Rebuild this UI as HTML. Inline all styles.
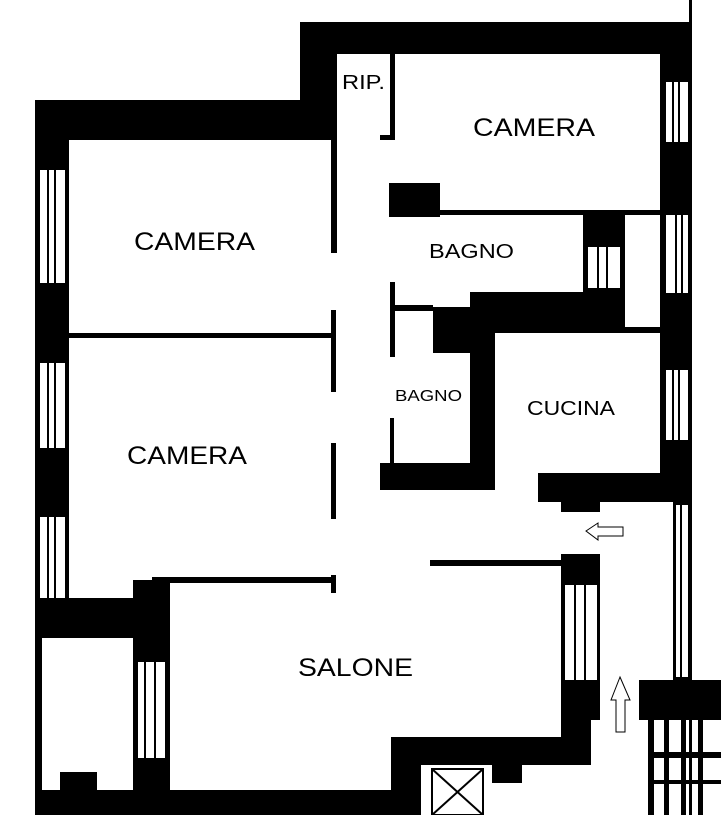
<!DOCTYPE html>
<html><head><meta charset="utf-8"><style>
html,body{margin:0;padding:0;background:#fff;}
svg{display:block;}
text{font-family:"Liberation Sans",sans-serif;fill:#000;}
</style></head><body>
<svg width="721" height="815" viewBox="0 0 721 815" xmlns="http://www.w3.org/2000/svg">
<g fill="#000">
<rect x="35" y="100" width="302" height="40"/>
<rect x="300" y="22" width="37" height="118"/>
<rect x="300" y="22" width="392" height="32"/>
<rect x="35" y="100" width="34" height="715"/>
<rect x="660" y="22" width="32" height="308"/>
<rect x="660" y="330" width="32" height="172"/>
<rect x="689" y="0" width="3" height="815"/>
<rect x="390" y="53" width="5" height="87"/>
<rect x="380" y="135" width="15" height="5"/>
<rect x="331" y="133" width="6" height="120"/>
<rect x="331" y="310" width="5" height="82"/>
<rect x="68" y="333" width="266" height="5"/>
<rect x="331" y="443" width="5" height="76"/>
<rect x="389" y="183" width="51" height="34"/>
<rect x="440" y="210" width="220" height="5"/>
<rect x="583" y="215" width="42" height="77"/>
<rect x="470" y="292" width="190" height="41"/>
<rect x="625" y="327" width="35" height="6"/>
<rect x="433" y="307" width="40" height="46"/>
<rect x="470" y="292" width="25" height="198"/>
<rect x="390" y="282" width="5" height="75"/>
<rect x="395" y="305" width="38" height="6"/>
<rect x="390" y="418" width="4" height="47"/>
<rect x="380" y="463" width="114" height="27"/>
<rect x="538" y="473" width="154" height="29"/>
<rect x="561" y="473" width="39" height="39"/>
<rect x="673" y="502" width="19" height="178"/>
<rect x="35" y="598" width="135" height="40"/>
<rect x="133" y="580" width="37" height="235"/>
<rect x="152" y="577" width="184" height="6"/>
<rect x="331" y="575" width="5" height="18"/>
<rect x="35" y="790" width="385" height="25"/>
<rect x="561" y="554" width="39" height="166"/>
<rect x="430" y="560" width="131" height="6"/>
<rect x="561" y="700" width="30" height="65"/>
<rect x="391" y="737" width="200" height="28"/>
<rect x="391" y="737" width="30" height="78"/>
<rect x="492" y="760" width="30" height="23"/>
<rect x="639" y="680" width="82" height="40"/>
<rect x="648" y="720" width="6" height="95"/>
<rect x="664" y="720" width="5" height="95"/>
<rect x="681" y="720" width="5" height="95"/>
<rect x="698" y="720" width="5" height="95"/>
<rect x="648" y="752" width="73" height="6"/>
<rect x="648" y="780" width="73" height="4"/>
</g>
<g fill="#fff">
<rect x="40" y="170" width="25" height="113"/>
<rect x="40" y="363" width="25" height="85"/>
<rect x="40" y="517" width="25" height="81"/>
<rect x="42" y="638" width="91" height="152"/>
<rect x="138" y="662" width="27" height="96"/>
<rect x="666" y="82" width="22" height="60"/>
<rect x="625" y="215" width="35" height="112"/>
<rect x="666" y="215" width="22" height="78"/>
<rect x="588" y="247" width="32" height="41"/>
<rect x="666" y="370" width="22" height="70"/>
<rect x="676" y="505" width="12" height="172"/>
<rect x="565" y="585" width="32" height="95"/>
<rect x="430" y="767" width="55" height="48"/>
<rect x="654" y="720" width="10" height="32"/>
</g>
<g fill="#000">
<rect x="60" y="772" width="37" height="18"/>
</g>
<g stroke="#000" stroke-width="2" fill="none">
<line x1="48" y1="170" x2="48" y2="283"/><line x1="55" y1="170" x2="55" y2="283"/>
<line x1="48" y1="363" x2="48" y2="448"/><line x1="55" y1="363" x2="55" y2="448"/>
<line x1="48" y1="517" x2="48" y2="598"/><line x1="55" y1="517" x2="55" y2="598"/>
<line x1="145" y1="662" x2="145" y2="758"/><line x1="155" y1="662" x2="155" y2="758"/>
<line x1="673" y1="82" x2="673" y2="142"/><line x1="679" y1="82" x2="679" y2="142"/>
<line x1="676" y1="215" x2="676" y2="293"/><line x1="682" y1="215" x2="682" y2="293"/>
<line x1="598" y1="247" x2="598" y2="288"/><line x1="607" y1="247" x2="607" y2="288"/>
<line x1="673" y1="370" x2="673" y2="440"/><line x1="679" y1="370" x2="679" y2="440"/>
<line x1="681" y1="505" x2="681" y2="677"/>
<line x1="575" y1="585" x2="575" y2="680"/><line x1="585" y1="585" x2="585" y2="680"/>
<rect x="432" y="769" width="51" height="46"/>
<line x1="432" y1="769" x2="483" y2="815"/><line x1="483" y1="769" x2="432" y2="815"/>
</g>
<g stroke="#000" stroke-width="1" fill="#fff">
<polygon points="586,531 598,523 598,527 623,527 623,536 598,536 598,540"/>
<polygon points="620,677 630,700 625,700 625,732 616,732 616,700 611,700"/>
</g>
<text x="342" y="89" font-size="20" textLength="43" lengthAdjust="spacingAndGlyphs">RIP.</text>
<text x="473" y="136" font-size="25" textLength="122" lengthAdjust="spacingAndGlyphs">CAMERA</text>
<text x="134" y="250" font-size="25" textLength="121" lengthAdjust="spacingAndGlyphs">CAMERA</text>
<text x="429" y="258" font-size="20" textLength="85" lengthAdjust="spacingAndGlyphs">BAGNO</text>
<text x="395" y="401" font-size="16" textLength="67" lengthAdjust="spacingAndGlyphs">BAGNO</text>
<text x="527" y="415" font-size="20" textLength="88" lengthAdjust="spacingAndGlyphs">CUCINA</text>
<text x="127" y="464" font-size="25" textLength="120" lengthAdjust="spacingAndGlyphs">CAMERA</text>
<text x="298" y="676" font-size="25" textLength="115" lengthAdjust="spacingAndGlyphs">SALONE</text>
</svg>
</body></html>
